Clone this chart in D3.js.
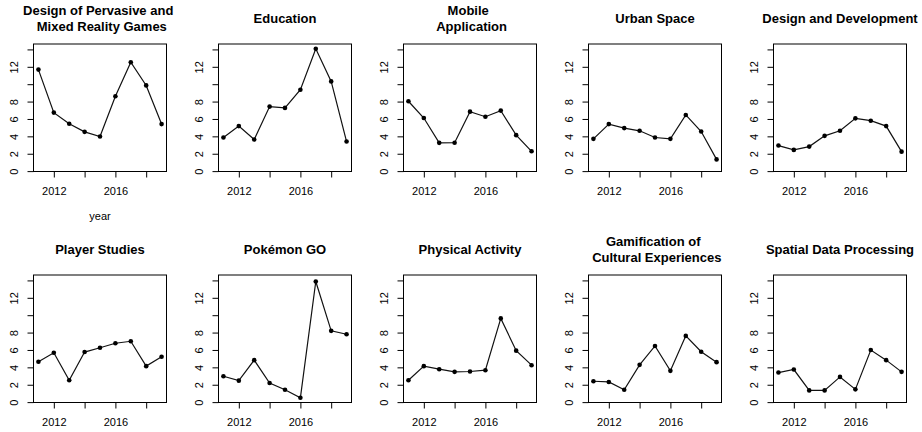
<!DOCTYPE html>
<html>
<head>
<meta charset="utf-8">
<script src="https://cdn.jsdelivr.net/npm/d3@7"></script>
<style>
  body { margin: 0; background: #fff; }
  svg { display: block; font-family: "Liberation Sans", Arial, Helvetica, sans-serif; }
  .title { font-weight: bold; font-size: 13px; white-space: pre; }
  .tick text { font-size: 11px; fill: #000; }
</style>
</head>
<body>
<svg id="chart" width="922" height="432"></svg>
<script>
// Publications per year for each research topic, 2011-2019
const years = [2011, 2012, 2013, 2014, 2015, 2016, 2017, 2018, 2019];

const titles = [
  "Design of Pervasive and \n Mixed Reality Games",
  "Education",
  "Mobile \n Application",
  "Urban Space",
  "Design and Development",
  "Player Studies",
  "Pokémon GO",
  "Physical Activity",
  "Gamification of \n Cultural Experiences",
  "Spatial Data Processing"
];

const pervasiveGames   = [11.68, 6.73, 5.45, 4.52, 3.98, 8.62, 12.53, 9.86, 5.41];
const education        = [3.87, 5.18, 3.63, 7.42, 7.27, 9.36, 14.08, 10.32, 3.40];
const mobileApp        = [8.04, 6.11, 3.25, 3.27, 6.84, 6.26, 6.96, 4.14, 2.28];
const urbanSpace       = [3.71, 5.41, 4.95, 4.64, 3.87, 3.71, 6.46, 4.56, 1.35];
const designDev        = [2.94, 2.44, 2.82, 4.06, 4.64, 6.07, 5.80, 5.18, 2.24];
const playerStudies    = [4.64, 5.68, 2.51, 5.76, 6.26, 6.77, 7.00, 4.14, 5.22];
const pokemonGo        = [2.98, 2.47, 4.83, 2.20, 1.43, 0.50, 13.88, 8.20, 7.81];
const physicalActivity = [2.51, 4.14, 3.79, 3.48, 3.52, 3.67, 9.63, 5.92, 4.25];
const culturalGames    = [2.40, 2.32, 1.43, 4.29, 6.46, 3.60, 7.62, 5.80, 4.60];
const spatialData      = [3.40, 3.75, 1.35, 1.35, 2.90, 1.47, 5.99, 4.83, 3.48];

const series = [pervasiveGames, education, mobileApp, urbanSpace, designDev,
                playerStudies, pokemonGo, physicalActivity, culturalGames, spatialData];

const xTicks = [2012, 2014, 2016, 2018];
const xTickLabels = ["2012", "", "2016", ""];
const yTicks = [0, 2, 4, 6, 8, 10, 12, 14];
const yTickLabels = ["0", "2", "4", "6", "8", "", "12", ""];
const xAxisTitle = "year";

// Panel geometry
const colStep = 185, boxLeft0 = 33.5, boxW = 133, boxH = 127.5;
const rowTops = [44, 275];

const svg = d3.select("#chart");

// Shared ranges, padded by 4% like base graphics
function padded(ext) {
  const d = (ext[1] - ext[0]) * 0.04;
  return [ext[0] - d, ext[1] + d];
}
const xDomain = padded(d3.extent(years));
const yDomain = padded(d3.extent(series.flat()));

series.forEach((vals, i) => {
  const row = Math.floor(i / 5), col = i % 5;
  const left = boxLeft0 + col * colStep;
  const top = rowTops[row];

  const x = d3.scaleLinear().domain(xDomain).range([0, boxW]);
  const y = d3.scaleLinear().domain(yDomain).range([boxH, 0]);

  const g = svg.append("g").attr("transform", `translate(${left},${top})`);

  // Title (possibly two lines)
  const lines = titles[i].split("\n");
  const lh = 15.5;
  const t0 = -25.5 - (lines.length - 1) * lh / 2;
  lines.forEach((ln, k) => {
    g.append("text").attr("class", "title")
      .attr("x", boxW / 2).attr("y", t0 + k * lh)
      .attr("text-anchor", "middle").attr("dominant-baseline", "central")
      .text(ln);
  });

  // Y axis
  const ya = g.append("g").call(
    d3.axisLeft(y).tickValues(yTicks).tickSize(6).tickSizeOuter(0)
      .tickFormat((d, k) => yTickLabels[k]));
  ya.select(".domain").remove();
  ya.selectAll(".tick line").attr("stroke", "#000");
  ya.selectAll(".tick text")
    .attr("x", null).attr("dy", null)
    .attr("transform", "translate(-20,0) rotate(-90)")
    .attr("text-anchor", "middle").attr("dominant-baseline", "central");
  g.append("line").attr("x1", 0).attr("x2", 0)
    .attr("y1", y(yTicks[0])).attr("y2", y(yTicks[yTicks.length - 1]))
    .attr("stroke", "#000");

  // X axis
  const xa = g.append("g").attr("transform", `translate(0,${boxH})`).call(
    d3.axisBottom(x).tickValues(xTicks).tickSize(6).tickSizeOuter(0)
      .tickFormat((d, k) => xTickLabels[k]));
  xa.select(".domain").remove();
  xa.selectAll(".tick line").attr("stroke", "#000");
  xa.selectAll(".tick text")
    .attr("y", 19.5).attr("dy", null)
    .attr("dominant-baseline", "central");
  g.append("line").attr("y1", boxH).attr("y2", boxH)
    .attr("x1", x(xTicks[0])).attr("x2", x(xTicks[xTicks.length - 1]))
    .attr("stroke", "#000");

  if (i === 0) {
    g.append("text").attr("x", boxW / 2).attr("y", boxH + 44.5)
      .attr("text-anchor", "middle").attr("dominant-baseline", "central")
      .attr("font-size", 11).text(xAxisTitle);
  }

  // Frame
  g.append("rect").attr("x", 0).attr("y", 0).attr("width", boxW).attr("height", boxH)
    .attr("fill", "none").attr("stroke", "#000").attr("stroke-width", 1);

  // Series line and points
  const pts = years.map((yr, k) => [yr, vals[k]]);
  g.append("path").datum(pts)
    .attr("fill", "none").attr("stroke", "#111").attr("stroke-width", 1.2)
    .attr("d", d3.line().x(d => x(d[0])).y(d => y(d[1])));
  g.selectAll("circle.pt").data(pts).join("circle")
    .attr("class", "pt")
    .attr("cx", d => x(d[0])).attr("cy", d => y(d[1])).attr("r", 2.3)
    .attr("fill", "#000");
});
</script>
</body>
</html>
